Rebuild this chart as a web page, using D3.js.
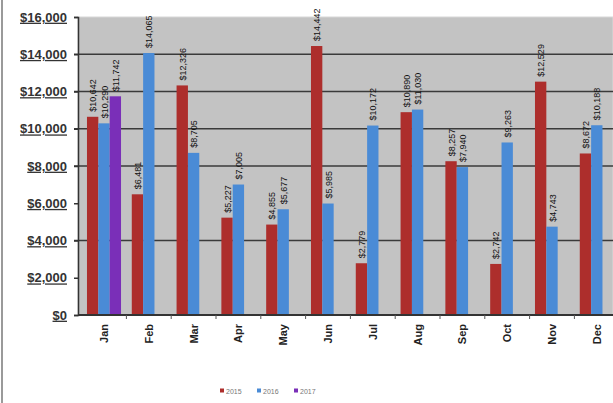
<!DOCTYPE html>
<html>
<head>
<meta charset="utf-8">
<script src="https://cdn.jsdelivr.net/npm/d3@7"></script>
<style>
  body { margin: 0; background: #fff; }
  svg { display: block; font-family: Arial, "Liberation Sans", sans-serif; }
</style>
</head>
<body>
<div id="chart"></div>
<script>
// --- data ---
const months = ["Jan", "Feb", "Mar", "Apr", "May", "Jun", "Jul", "Aug", "Sep", "Oct", "Nov", "Dec"];
const seriesNames = ["2015", "2016", "2017"];
const values2015 = [10642, 6481, 12326, 5227, 4855, 14442, 2779, 10890, 8257, 2742, 12529, 8672];
const values2016 = [10290, 14065, 8705, 7005, 5677, 5985, 10172, 11030, 7940, 9263, 4743, 10188];
const values2017 = [11742, null, null, null, null, null, null, null, null, null, null, null];
const yTicks = [0, 2000, 4000, 6000, 8000, 10000, 12000, 14000, 16000];
const gridValues = [4000, 8000, 10000, 12000, 14000];
const colors = ["#ad2e2c", "#4a8bd6", "#7a2fb8"];

const width = 613, height = 403;
const plotLeft = 78, plotTop = 17, plotBottom = 315;

const svg = d3.select("#chart").append("svg")
    .attr("width", width)
    .attr("height", height);

// left frame line
svg.append("line")
    .attr("x1", 2).attr("x2", 2).attr("y1", 0).attr("y2", height)
    .attr("stroke", "#9a9a9a").attr("stroke-width", 2);

const x = d3.scaleBand().domain(months)
    .range([81.6, 619.2])
    .paddingInner(0.24).paddingOuter(0.12);
const xSub = d3.scaleBand().domain(seriesNames).range([0, x.bandwidth()]);
const y = d3.scaleLinear().domain([0, 16000]).range([plotBottom, plotTop]);

// plot background
svg.append("rect")
    .attr("x", plotLeft).attr("y", plotTop)
    .attr("width", width - plotLeft).attr("height", plotBottom - plotTop)
    .attr("fill", "#c3c3c3")
    .attr("stroke", "#d8d8d8");

// gridlines
svg.selectAll("line.grid")
    .data(gridValues)
    .enter().append("line")
    .attr("class", "grid")
    .attr("x1", plotLeft - 4).attr("x2", width)
    .attr("y1", d => y(d)).attr("y2", d => y(d))
    .attr("stroke", "#3a3a3a").attr("stroke-width", 1.6);

// bars
const allSeries = [values2015, values2016, values2017];
const barData = [];
allSeries.forEach((vals, si) => {
    vals.forEach((v, mi) => {
        if (v != null) barData.push({ month: months[mi], series: seriesNames[si], value: v, color: colors[si] });
    });
});

svg.selectAll("rect.bar")
    .data(barData)
    .enter().append("rect")
    .attr("class", "bar")
    .attr("x", d => x(d.month) + xSub(d.series))
    .attr("y", d => y(d.value))
    .attr("width", xSub.bandwidth())
    .attr("height", d => y(0) - y(d.value))
    .attr("fill", d => d.color);

// value labels, rotated
const fmt = d3.format("$,");
svg.selectAll("text.val")
    .data(barData)
    .enter().append("text")
    .attr("class", "val")
    .attr("transform", d => `translate(${x(d.month) + xSub(d.series) + xSub.bandwidth() / 2 + 3.5},${y(d.value) - 5}) rotate(-90)`)
    .attr("font-size", 9)
    .attr("fill", "#111")
    .text(d => fmt(d.value));

// y axis
const yAxis = svg.append("g")
    .attr("transform", `translate(${plotLeft},0)`)
    .call(d3.axisLeft(y).tickValues(yTicks).tickSize(4).tickPadding(7).tickFormat(d3.format("$,")));
yAxis.select(".domain").attr("stroke", "#333").attr("stroke-width", 1.5);
yAxis.selectAll(".tick line").attr("stroke", "#333").attr("stroke-width", 1.5);
yAxis.selectAll(".tick text")
    .attr("font-size", 13)
    .attr("font-weight", "bold")
    .attr("fill", "#333")
    .attr("text-decoration", "underline");

// x axis
const xAxisG = svg.append("g").attr("transform", `translate(0,${plotBottom})`);
xAxisG.append("line")
    .attr("x1", plotLeft).attr("x2", width)
    .attr("stroke", "#333").attr("stroke-width", 1.8);
const step = x.step();
xAxisG.selectAll("line.tick")
    .data(months)
    .enter().append("line")
    .attr("class", "tick")
    .attr("x1", d => x(d) + x.bandwidth() + (step - x.bandwidth()) / 2)
    .attr("x2", d => x(d) + x.bandwidth() + (step - x.bandwidth()) / 2)
    .attr("y1", 0).attr("y2", 4)
    .attr("stroke", "#555");
xAxisG.selectAll("text.month")
    .data(months)
    .enter().append("text")
    .attr("class", "month")
    .attr("transform", d => `translate(${x(d) + x.bandwidth() / 2 + 4},9) rotate(-90)`)
    .attr("text-anchor", "end")
    .attr("font-size", 11)
    .attr("font-weight", "bold")
    .attr("fill", "#222")
    .text(d => d);

// legend
const legendX = [220, 257, 294];
const legend = svg.append("g").attr("transform", "translate(0,391)");
seriesNames.forEach((name, i) => {
    legend.append("rect")
        .attr("x", legendX[i]).attr("y", -2.5)
        .attr("width", 4).attr("height", 4)
        .attr("fill", colors[i]);
    legend.append("text")
        .attr("x", legendX[i] + 6).attr("y", 2.5)
        .attr("font-size", 7)
        .attr("fill", "#777")
        .text(name);
});
</script>
</body>
</html>
